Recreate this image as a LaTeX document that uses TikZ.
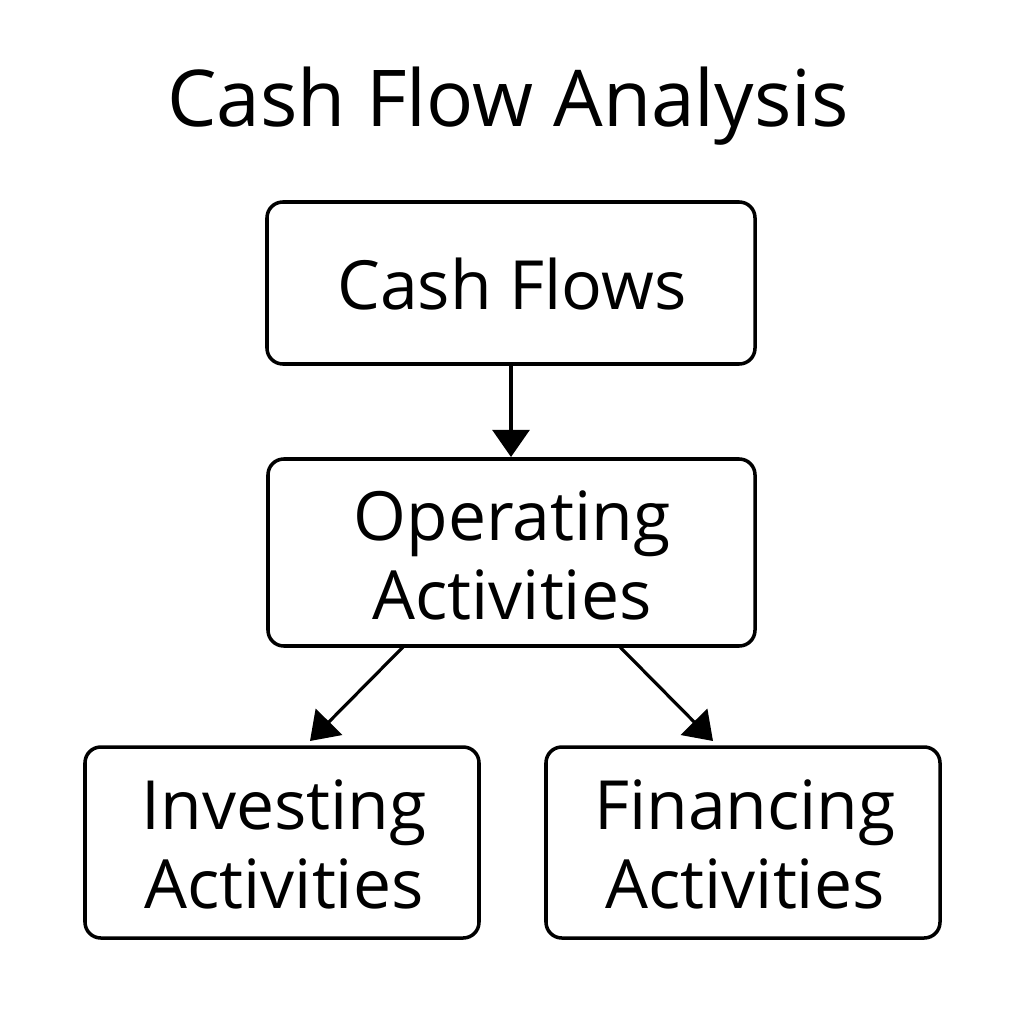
\documentclass[tikz,border=0pt]{standalone}
\usepackage{fontspec}
\setmainfont{Open Sans}
\usetikzlibrary{arrows.meta}
\begin{document}
\begin{tikzpicture}[x=0.01cm,y=-0.01cm,
  box/.style={draw,line width=1pt,rounded corners=4.5pt,inner sep=0pt},
  boxtext/.style={font=\fontsize{19.3pt}{23.5pt}\selectfont,align=center,inner sep=0pt},
  conn/.style={line width=0.9pt,-{Triangle[length=7.7pt,width=10.5pt]}}]
\useasboundingbox (0,0) rectangle (1024,1024);
\node[font=\fontsize{22.3pt}{28pt}\selectfont,inner sep=0pt] (title) at (508,106) {Cash Flow Analysis};
\draw[box] (267,202) rectangle (755,364);
\coordinate (cfb) at (511,364);
\node[boxtext] (cf) at (512,284) {Cash Flows};
\draw[box] (268,459) rectangle (755,646);
\coordinate (opt) at (511,457);
\node[boxtext] (op) at (512,555) {Operating\\[-1pt]Activities};
\draw[box] (85,747) rectangle (479,938);
\node[boxtext] (inv) at (284,844) {Investing\\[-1pt]Activities};
\draw[box] (546,747) rectangle (940,938);
\node[boxtext] (fin) at (745,844) {Financing\\[-1pt]Activities};
\coordinate (opl) at (403,647);
\coordinate (opr) at (620,647);
\coordinate (invt) at (310,741);
\coordinate (fint) at (713,741);
\draw[conn] (cfb) -- (opt);
\draw[conn] (opl) -- (invt);
\draw[conn] (opr) -- (fint);
\end{tikzpicture}
\end{document}
